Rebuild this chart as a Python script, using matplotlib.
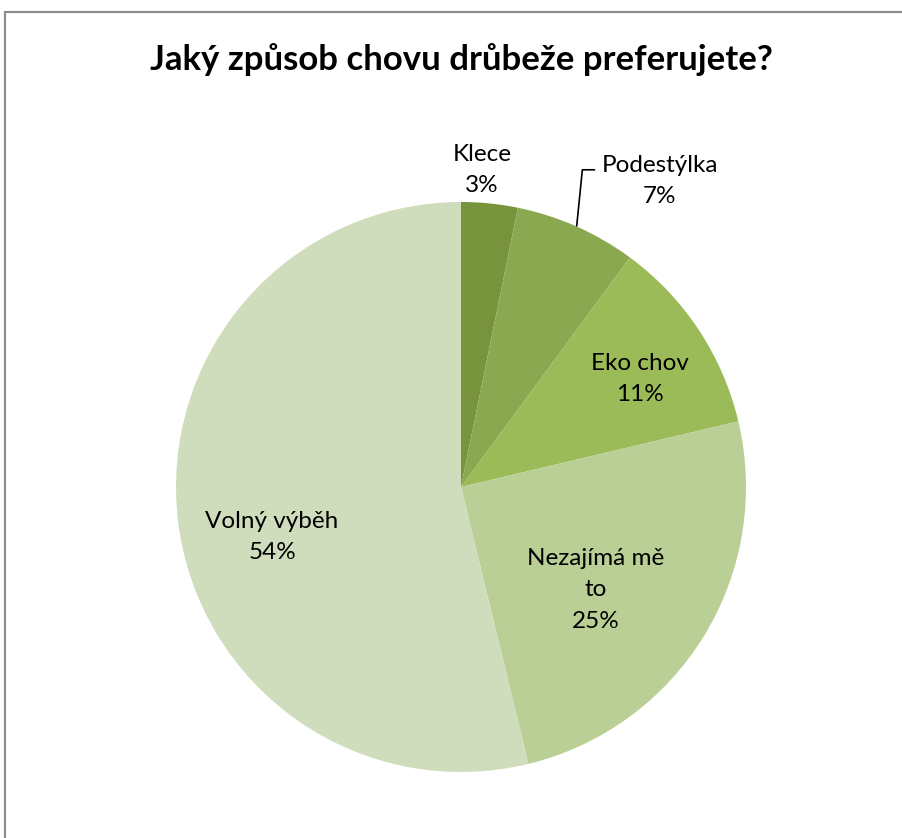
import numpy as np
import matplotlib
matplotlib.use('Agg')
from matplotlib import pyplot as plt
from matplotlib.patches import Rectangle

## DATA

categories = ['Klece', 'Podestýlka', 'Eko chov', 'Nezajímá mě\nto', 'Volný výběh']
shares = [3.2, 6.9, 11.2, 24.9, 53.8]
pct_labels = ['3%', '7%', '11%', '25%', '54%']
colors = ['#77933c', '#8aa84f', '#9bbb59', '#b9cf95', '#d0ddbc']

## FIGURE

plt.rcParams['font.family'] = ['Lato', 'DejaVu Sans']

fig = plt.figure(figsize=(9.03, 8.38), dpi=100)
fig.patch.set_facecolor('white')

# chart frame (gray border, cut at right / bottom like the original)
fig.patches.append(Rectangle((5 / 903, -0.1), 1.2, (838 - 12) / 838 + 0.1,
                             transform=fig.transFigure, fill=False,
                             edgecolor='#8c8c8c', linewidth=1.6))

fig.text(461 / 903, 1 - 60 / 838, 'Jaký způsob chovu drůbeže preferujete?',
         ha='center', va='center', fontsize=25, fontweight='bold')

# pie axes: center (461,487) px, radius 285 px
ax = fig.add_axes([176 / 903, 66 / 838, 570 / 903, 570 / 838])

wedges, _ = ax.pie(shares, colors=colors, startangle=90, counterclock=False,
                   radius=1, wedgeprops=dict(linewidth=0))
ax.set_aspect('auto')
ax.set_xlim(-1, 1)
ax.set_ylim(-1, 1)
ax.axis('off')

# label placement relative to pie centre (layout only)
label_pos = [(0.074, 1.112), (0.698, 1.074), (0.628, 0.379),
             (0.474, -0.361), (-0.663, -0.175)]

for i, w in enumerate(wedges):
    x, y = label_pos[i]
    ax.text(x, y, categories[i] + '\n' + pct_labels[i], ha='center', va='center',
            fontsize=17.5, linespacing=1.6, clip_on=False)

# leader line for Podestýlka
w = wedges[1]
mid = np.deg2rad((w.theta1 + w.theta2) / 2)
x0, y0 = np.cos(mid), np.sin(mid)
ax.plot([x0, x0 + 0.02, x0 + 0.065], [y0, 1.113, 1.113], color='black',
        linewidth=1.2, clip_on=False, solid_capstyle='butt')

plt.savefig('out.png', dpi=100)
